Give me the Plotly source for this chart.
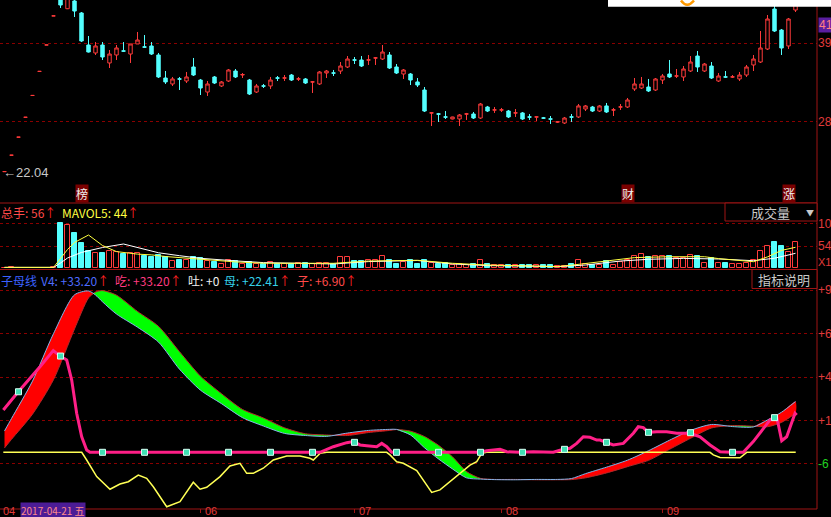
import plotly.graph_objects as go

W, H = 831, 517
PLOT_RIGHT = 817


def px(x):
    return x / W


def py(y):
    return 1 - y / H


# ---------------- data ----------------
days = list(range(-1, 113))

opens = [22.04, 24.24, 26.66, 29.33, 32.26, 35.49, 39.04, 42.94,
         47.2, 43.90, 44.94, 43.33, 39.03, 37.96, 39.03, 36.62, 37.69, 38.25,
         37.82, 39.17, 38.78, 38.90, 37.69, 34.60, 33.80, 34.49, 34.20, 36.08,
         34.33, 32.72, 34.74, 33.53, 34.20, 35.54, 35.00, 34.33, 32.72, 33.55,
         33.53, 34.62, 34.58, 35.00, 34.45, 34.47, 34.05, 33.80, 35.27, 35.29,
         35.54, 36.08, 37.04, 37.02, 37.00, 37.27, 37.15, 37.69, 36.08, 35.14,
         35.14, 34.07, 32.99, 29.89, 29.79, 29.39, 29.10, 29.10, 29.75, 29.77,
         29.23, 30.71, 30.29, 30.29, 30.17, 29.89, 29.91, 29.39, 29.35, 29.25,
         29.12, 28.68, 28.56, 29.39, 29.37, 30.44, 30.71, 30.17, 30.85, 30.29,
         30.69, 30.71, 33.13, 33.26, 33.39, 32.99, 34.33, 35.14, 34.85, 34.74,
         35.54, 37.55, 35.54, 36.21, 34.20, 34.76, 34.72, 34.47, 35.00, 36.35,
         36.75, 38.49, 43.86, 41.04, 38.90, 43.73]
highs = [22.04, 24.24, 26.66, 29.33, 32.26, 35.49, 39.04, 42.94,
         47.2, 46.0, 45.3, 43.46, 40.24, 39.43, 39.43, 38.36, 39.03, 39.43,
         39.17, 40.78, 40.37, 39.43, 37.96, 35.54, 34.74, 34.74, 35.41, 37.29,
         34.47, 34.20, 34.87, 34.20, 35.81, 35.81, 35.27, 34.47, 33.80, 33.80,
         34.74, 34.87, 35.00, 35.14, 34.74, 34.60, 34.20, 35.54, 35.68, 35.68,
         36.75, 37.55, 37.42, 37.55, 37.69, 37.42, 39.03, 38.09, 36.48, 35.81,
         35.27, 34.60, 33.39, 30.04, 29.91, 30.17, 29.40, 29.77, 29.91, 30.04,
         31.25, 30.85, 30.71, 30.58, 30.31, 30.44, 30.04, 29.77, 29.50, 29.37,
         29.50, 28.83, 29.37, 29.77, 31.11, 30.98, 30.85, 30.98, 31.25, 30.58,
         31.11, 31.92, 34.60, 34.74, 34.47, 34.60, 35.14, 37.02, 35.81, 36.21,
         37.55, 38.23, 36.62, 36.75, 35.27, 35.54, 35.00, 35.41, 36.35, 37.69,
         40.91, 43.06, 44.40, 41.18, 42.66, 46.00]
lows = [22.04, 24.24, 26.66, 29.33, 32.26, 35.49, 39.04, 42.94,
        44.00, 43.85, 42.79, 39.43, 38.02, 37.69, 37.02, 35.94, 37.02, 38.09,
        36.62, 39.17, 38.70, 37.69, 34.60, 33.80, 33.53, 32.99, 33.93, 34.87,
        32.32, 32.19, 33.80, 33.39, 34.07, 34.60, 34.60, 32.32, 32.59, 33.26,
        33.13, 34.20, 34.20, 34.20, 34.20, 33.80, 32.59, 33.66, 34.60, 34.87,
        35.14, 35.94, 36.48, 36.08, 36.35, 36.35, 37.02, 35.81, 35.14, 34.47,
        33.66, 33.39, 30.04, 28.16, 28.70, 29.10, 29.05, 28.16, 28.97, 29.10,
        29.10, 30.04, 29.91, 30.04, 29.23, 29.37, 28.97, 28.97, 28.83, 29.10,
        28.43, 28.56, 28.43, 28.70, 29.23, 30.17, 30.04, 30.04, 29.91, 29.50,
        30.31, 30.58, 32.86, 33.13, 32.72, 32.86, 33.80, 34.60, 34.60, 34.20,
        35.41, 35.41, 35.41, 34.47, 34.07, 34.60, 34.60, 34.20, 34.74, 35.54,
        36.62, 38.36, 40.78, 37.69, 38.49, 43.46]
closes = [22.04, 24.24, 26.66, 29.33, 32.26, 35.49, 39.04, 42.94,
          44.40, 45.6, 43.59, 39.57, 38.09, 38.90, 37.42, 37.82, 38.63, 38.20,
          39.17, 39.70, 38.74, 37.82, 34.74, 34.07, 34.47, 34.45, 34.74, 35.00,
          33.26, 33.80, 33.93, 34.07, 35.68, 34.74, 35.07, 32.45, 33.53, 33.51,
          34.33, 34.58, 34.62, 34.33, 34.49, 33.93, 34.09, 35.41, 35.54, 35.25,
          36.21, 37.15, 37.00, 36.21, 37.04, 37.31, 38.09, 35.94, 35.27, 35.68,
          34.33, 33.66, 30.17, 29.93, 29.75, 29.35, 29.37, 29.64, 29.79, 29.23,
          31.11, 30.17, 30.33, 30.33, 29.37, 29.93, 29.10, 29.35, 29.39, 29.21,
          29.08, 28.72, 29.23, 29.35, 30.85, 30.85, 30.17, 30.85, 30.04, 30.33,
          30.73, 31.65, 33.80, 33.80, 32.86, 34.47, 34.87, 34.74, 34.89, 35.81,
          36.75, 36.08, 36.48, 34.60, 34.87, 34.72, 34.76, 35.00, 36.08, 37.15,
          38.63, 42.52, 40.91, 38.63, 42.52, 45.30]

volumes = [1.0, 1.5, 1.0, 0.8, 0.8, 0.8, 1.0, 1.5,
           110, 107, 86, 62, 41, 37, 38, 41, 39.5, 35.5,
           38, 38, 30, 27, 31, 27, 16.5, 20.5, 20.5, 26.5,
           25, 16.5, 15, 11, 20.5, 16.5, 11, 15, 11, 9,
           15, 11, 9, 11, 12, 12, 11, 12, 12, 9,
           28, 28, 17, 17, 20.5, 19, 30.5, 20.5, 9, 15,
           19, 9, 19, 12, 9, 13, 8, 11, 8, 11,
           19, 11, 6.5, 6.5, 8, 6.5, 8, 6.5, 6.5, 6.5,
           6.5, 4, 4, 11, 19, 11, 8, 8, 18, 8,
           15, 19, 28.5, 34.5, 26, 30, 28.5, 28.5, 24.5, 24.5,
           31, 28.5, 12, 24.5, 12, 12, 11, 11, 12, 19,
           42.5, 53, 63, 53, 40, 63]

ma5_x = [-1, 6, 7, 8, 9, 11, 13, 15, 18, 20, 22, 25, 28, 32, 36, 41, 46, 51, 56,
         58, 63, 68, 73, 78, 80, 82, 86, 89, 94, 99, 101, 104, 106, 108, 110, 112]
ma5_v = [1.5, 1.5, 23.4, 45.6, 62.8, 81.3, 55.4, 40.4, 34.2, 32.3, 28.3, 23.9, 19.5,
         15.0, 11.8, 11.6, 11.6, 17.2, 19.7, 19.0, 11.6, 7.4, 5.4, 3.7, 6.9, 10.8,
         18.5, 25.6, 27.8, 27.8, 23.2, 18.2, 15.5, 27.4, 43.4, 51.0]
ma10_x = [-1, 6, 7, 8, 10, 13, 16, 18, 21, 24, 27, 32, 36, 41, 46, 51, 56, 58, 63,
          68, 73, 78, 82, 87, 91, 96, 101, 106, 109, 111, 112]
ma10_v = [1.5, 1.5, 12.3, 24.6, 38.4, 50.5, 59.1, 50.5, 37.5, 30.3, 23.9, 17.5,
          13.3, 11.6, 9.9, 15.8, 18.0, 18.5, 9.9, 5.9, 4.9, 3.2, 7.4, 17.2, 21.4,
          23.7, 22.2, 18.0, 24.1, 32.0, 36.2]

band_x = [-1, 0, 3, 6, 9, 11, 12, 13, 15, 18, 21, 24, 27, 30, 33, 36, 39, 42, 45, 48,
          51, 54, 55, 57, 59, 61, 63, 65, 67, 69, 72, 75, 78, 80, 82, 85, 88, 91, 94,
          97, 100, 103, 106, 108, 110, 112]
band_fast = [12.2, 19.3, 40.7, 67.8, 90.0, 92.2, 89.9, 86.0, 79.0, 71.5,
             63.0, 47.5, 35.5, 27.8, 19.8, 15.0, 10.8, 9.6, 9.1, 11.0,
             12.5, 13.1, 13.1, 9.9, 2.6, -3.8, -9.5, -14.6, -15.3, -15.6,
             -15.7, -15.5, -15.5, -15.0, -12.2, -8.5, -4.5, 0.9, 6.9, 12.5,
             15.9, 14.7, 14.5, 18.5, 22.9, 29.0]
band_slow = [2.5, 7.4, 21.8, 41.5, 70.5, 88.2, 91.6, 92.4, 89.8, 80.5,
             72.0, 57.5, 43.5, 33.5, 24.5, 19.6, 14.0, 10.6, 9.9, 9.6,
             11.3, 12.5, 13.0, 12.1, 9.0, 4.0, -2.6, -11.0, -14.9, -15.5,
             -15.5, -15.7, -15.7, -15.6, -14.6, -11.8, -8.2, -4.6, 1.7, 8.0,
             13.9, 15.3, 14.9, 14.6, 17.1, 22.5]

zi_x = [-1.17, 0.97, 4.07, 5.97, 6.93, 7.89, 8.6, 9.31, 10.03, 10.74, 11.21,
        44.07, 45.97, 47.89, 48.83, 49.79, 50.74, 52.17, 52.89, 53.6, 54.31,
        66.93, 67.89, 69.79, 70.74, 72.64, 74.54, 77.4, 78.83, 79.79, 80.74,
        81.69, 82.64, 83.6, 84.07, 85.03, 85.97, 87.4, 88.83, 89.54, 90.26,
        90.97, 92.17, 93.6, 95.03, 96.93, 98.36, 99.79, 101.21, 102.89, 104.54,
        105.97, 107.4, 108.36, 109.31, 110.03, 110.74, 111.46, 111.93, 112.17]
zi_v = [24.2, 34.6, 48.9, 58.1, 55.0, 52.7, 41.3, 22.3, 8.9, 1.3, 0,
        0, 3.2, 5.5, 6.1, 4.2, 3.8, 3.2, 5.1, 3.2, 0,
        0, 0.9, 1.7, 0.3, 0, 0.3, 0, 1.7, 2.3, 5.1,
        8.9, 8.6, 7.0, 7.0, 5.7, 4.2, 5.1, 10.9, 14.6, 14.1,
        11.4, 11.8, 11.8, 10.9, 10.9, 8.9, 4.2, 0.3, 0, 0,
        6.1, 13.7, 18.5, 20.3, 6.6, 8.9, 16.6, 22.3, 21.3]

tu_x = [-1.17, 10.03, 10.74, 12.17, 14.07, 15.5, 16.69, 18.11, 19.31, 20.26, 22.17,
        24.07, 25.97, 26.93, 27.89, 29.79, 31.21, 32.64, 33.6, 34.54, 35.97, 37.4,
        39.31, 41.21, 42.64, 43.11, 44.07, 45.03, 53.6, 54.07, 55.03, 55.97, 57.89,
        58.83, 60.03, 61.21, 62.64, 64.07, 65.5, 66.46, 67.17, 67.89, 99.79, 100.26,
        101.21, 104.07, 105.03, 112.03]
tu_v = [0, 0, -4.4, -13.9, -21.1, -18.1, -16.8, -13.0, -14.9, -19.7, -31.1,
        -28.2, -17.1, -21.1, -20.0, -13.9, -7.8, -6.3, -12.0, -12.0, -9.1, -4.4,
        -2.1, -2.1, -3.4, -4.4, -0.6, 0, 0, -1.5, -5.4, -6.3, -10.5,
        -15.8, -22.9, -21.5, -16.8, -11.7, -7.3, -5.4, -0.6, 0, 0, -1.5,
        -2.9, -3.1, 0, 0]

mark_x = [1, 7, 13, 19, 25, 31, 37, 43, 49, 55, 61, 67, 73, 79, 85, 91, 97, 103, 109]
mark_v = [34.6, 55.0, 0, 0, 0, 0, 0, 0, 5.7, 0, 0, 0, 0, 1.7, 5.7, 11.4, 11.2, 0, 19.8]

price_ticks = [28.70, 39.30]
price_labels = ["28", "39"]
vol_ticks = [54.2, 108.5]
vol_labels = ["54", "10"]
ind_ticks = [-6.60, 18.20, 43.00, 67.80, 92.60]
ind_labels = ["-6", "+1", "+4", "+6", "+9"]
month_pos = [27, 49, 70, 93]
month_labels = ["06", "07", "08", "09"]

# ---------------- style ----------------
RED = "#ff3b3b"
CYAN = "#54ffff"
GRID = "#8a0000"
SEP = "#a01414"
AXT = "#e03a3a"
FONT = "Liberation Sans, Arial, Noto Sans CJK SC"
CJK = "Noto Sans CJK SC, Liberation Sans"

fig = go.Figure()

# ---- price panel ----
fig.add_trace(go.Candlestick(
    x=days, open=opens, high=highs, low=lows, close=closes,
    increasing=dict(line=dict(color=RED, width=1), fillcolor="#000000"),
    decreasing=dict(line=dict(color=CYAN, width=1), fillcolor=CYAN),
    whiskerwidth=0, xaxis="x", yaxis="y", hoverinfo="skip", showlegend=False))

# ---- volume panel ----
up = []
prev_c = None
for o, c in zip(opens, closes):
    if c > o:
        u = True
    elif c < o:
        u = False
    else:
        u = True if prev_c is None else c >= prev_c
    up.append(u)
    prev_c = c
fig.add_trace(go.Bar(
    x=days, y=volumes, width=0.68,
    marker=dict(color=["#000000" if u else CYAN for u in up],
                line=dict(color=[RED if u else CYAN for u in up], width=1)),
    xaxis="x", yaxis="y2", hoverinfo="skip", showlegend=False))
fig.add_trace(go.Scatter(x=ma10_x, y=ma10_v, mode="lines",
                         line=dict(color="#ffffff", width=1),
                         xaxis="x", yaxis="y2", hoverinfo="skip", showlegend=False))
fig.add_trace(go.Scatter(x=ma5_x, y=ma5_v, mode="lines",
                         line=dict(color="#ffff40", width=1),
                         xaxis="x", yaxis="y2", hoverinfo="skip", showlegend=False))

# ---- indicator panel: ribbon between fast and slow lines ----
segs = []
cx, ca, cb = [band_x[0]], [band_fast[0]], [band_slow[0]]
sign = band_fast[0] >= band_slow[0]
for k in range(1, len(band_x)):
    s = band_fast[k] >= band_slow[k]
    if s != sign:
        d0 = band_fast[k - 1] - band_slow[k - 1]
        d1 = band_fast[k] - band_slow[k]
        t = d0 / (d0 - d1)
        xc = band_x[k - 1] + t * (band_x[k] - band_x[k - 1])
        yc = band_fast[k - 1] + t * (band_fast[k] - band_fast[k - 1])
        cx.append(xc); ca.append(yc); cb.append(yc)
        segs.append((sign, cx, ca, cb))
        cx, ca, cb = [xc], [yc], [yc]
        sign = s
    cx.append(band_x[k]); ca.append(band_fast[k]); cb.append(band_slow[k])
segs.append((sign, cx, ca, cb))

for sgn, sx, sa, sb in segs:
    fig.add_trace(go.Scatter(
        x=sx + sx[::-1], y=sa + sb[::-1], mode="lines", fill="toself",
        fillcolor="#ff0000" if sgn else "#00ff00",
        line=dict(width=0, shape="spline", smoothing=0.7),
        xaxis="x", yaxis="y3", hoverinfo="skip", showlegend=False))

fig.add_trace(go.Scatter(x=band_x, y=band_slow, mode="lines",
                         line=dict(color="#b02a2a", width=1, shape="spline", smoothing=0.7),
                         xaxis="x", yaxis="y3", hoverinfo="skip", showlegend=False))
fig.add_trace(go.Scatter(x=band_x, y=band_fast, mode="lines",
                         line=dict(color="#80b4e8", width=1, shape="spline", smoothing=0.7),
                         xaxis="x", yaxis="y3", hoverinfo="skip", showlegend=False))

fig.add_trace(go.Scatter(x=tu_x, y=tu_v, mode="lines",
                         line=dict(color="#ffff55", width=1.5),
                         xaxis="x", yaxis="y3", hoverinfo="skip", showlegend=False))
fig.add_trace(go.Scatter(x=zi_x, y=zi_v, mode="lines",
                         line=dict(color="#ff1f87", width=3),
                         xaxis="x", yaxis="y3", hoverinfo="skip", showlegend=False))
fig.add_trace(go.Scatter(x=mark_x, y=mark_v, mode="markers",
                         marker=dict(symbol="square", size=6, color="#3fe0b4",
                                     line=dict(color="#d8fff4", width=1)),
                         xaxis="x", yaxis="y3", hoverinfo="skip", showlegend=False))

# ---------------- layout ----------------
axis_common = dict(anchor="x", side="right", showline=False, zeroline=False,
                   ticks="", showgrid=True, gridcolor=GRID, griddash="dot", gridwidth=1,
                   tickfont=dict(color=AXT, size=12, family=FONT), fixedrange=True)

fig.update_layout(
    width=W, height=H, autosize=False, margin=dict(l=0, r=0, t=0, b=0, pad=0),
    paper_bgcolor="#000000", plot_bgcolor="#000000", showlegend=False,
    bargap=0,
    xaxis=dict(domain=[0, px(PLOT_RIGHT)], range=[-1.643, 115.07], visible=False,
               anchor="y3", rangeslider=dict(visible=False), fixedrange=True),
    yaxis=dict(domain=[py(203), 1], range=[17.823, 45.072],
               tickvals=price_ticks, ticktext=price_labels, **axis_common),
    yaxis2=dict(domain=[py(269.5), py(203)], range=[-3.70, 160.16],
                tickvals=vol_ticks, ticktext=vol_labels, **axis_common),
    yaxis3=dict(domain=[py(509), py(269.5)], range=[-32.4, 104.46],
                tickvals=ind_ticks,
                ticktext=['<span style="color:#20d020">%s</span>' % t if v < 0 else t
                          for v, t in zip(ind_ticks, ind_labels)],
                **axis_common),
)

shapes = []
# panel separators
for yy in (203, 269.5, 509):
    shapes.append(dict(type="line", xref="paper", yref="paper", x0=0, x1=px(PLOT_RIGHT),
                       y0=py(yy), y1=py(yy), line=dict(color=SEP, width=1)))
shapes.append(dict(type="line", xref="paper", yref="paper", x0=px(PLOT_RIGHT), x1=px(PLOT_RIGHT),
                   y0=py(0), y1=py(509), line=dict(color=SEP, width=1)))
# month ticks
for m in month_pos:
    shapes.append(dict(type="line", xref="x", yref="paper", x0=m, x1=m,
                       y0=py(509), y1=py(513), line=dict(color=SEP, width=1)))
# boxes
shapes.append(dict(type="rect", xref="paper", yref="paper", x0=px(725), x1=px(PLOT_RIGHT),
                   y0=py(221), y1=py(203), line=dict(color=SEP, width=1), fillcolor="#000000"))
shapes.append(dict(type="rect", xref="paper", yref="paper", x0=px(752), x1=px(PLOT_RIGHT),
                   y0=py(288.5), y1=py(269.5), line=dict(color=SEP, width=1), fillcolor="#000000"))
shapes.append(dict(type="rect", xref="paper", yref="paper", x0=px(608), x1=1.0,
                   y0=py(6.7), y1=1.0, line=dict(width=0), fillcolor="#ffffff"))
# orange glyph fragment peeking below the top-right white box
shapes.append(dict(type="path", xref="paper", yref="paper",
                   path="M %f,%f Q %f,%f %f,%f" % (px(681), py(0.5), px(687), py(9), px(694), py(0.5)),
                   line=dict(color="#ff9a00", width=2.5)))
fig.update_layout(shapes=shapes)

ann = []


def text(x, y, s, color, size=12, xanchor="left", yanchor="middle", family=FONT, bg=None,
         xref="paper", yref="paper", xshift=0, yshift=0):
    d = dict(x=x, y=y, xref=xref, yref=yref, text=s, showarrow=False,
             xanchor=xanchor, yanchor=yanchor, xshift=xshift, yshift=yshift,
             font=dict(color=color, size=size, family=family), borderpad=0)
    if bg:
        d["bgcolor"] = bg
    ann.append(d)


UP = '<span style="color:#ff2020">↑</span>'
# volume title
text(px(0), py(212.5), "总手: 56" + UP, "#ff4a4a", family=CJK)
text(px(61), py(212.5), "MAVOL5: 44" + UP, "#ffff40", family=CJK)
# indicator title
text(px(0), py(280), "子母线", "#3b62ff", family=CJK)
text(px(40), py(280), "V4: +33.20" + UP, "#4e6cff", family=CJK)
text(px(114), py(280), "吃: +33.20" + UP, "#ff3a80", family=CJK)
text(px(187), py(280), "吐: +0", "#f0f0f0", family=CJK)
text(px(223), py(280), "母: +22.41" + UP, "#35d0e8", family=CJK)
text(px(296), py(280), "子: +6.90" + UP, "#ff4a4a", family=CJK)
# boxes text
text(px(770), py(212.5), "成交量", "#c8c8c8", size=13, xanchor="center", family=CJK)
text(px(810), py(212), "▼", "#c8c8c8", size=8, xanchor="center", family=CJK)
text(px(784), py(279.5), "指标说明", "#c8c8c8", size=13, xanchor="center", family=CJK)
# price markers
text(days[0], 22.04, "←22.04", "#c8c8c8", size=13, xref="x", yref="y", family=FONT,
     xshift=-3, yshift=-1)
text(10, py(193.5), "榜", "#f0f0f0", size=12, xanchor="center", family=CJK, bg="#7a0000", xref="x")
text(88, py(193.5), "财", "#f0f0f0", size=12, xanchor="center", family=CJK, bg="#7a0000", xref="x")
text(111, py(193.5), "涨", "#f0f0f0", size=12, xanchor="center", family=CJK, bg="#7a0000", xref="x")
text(px(818), py(24.5), "41", "#ff8080", size=12, family=FONT, bg="#5a1ea0")
text(px(817), py(262), "X1", AXT, size=11, family=FONT)
# x labels
text(px(2), py(510.5), "04", AXT, size=11, family=FONT)
text(px(20), py(510.5), "2017-04-21 五", "#ff8a8a", size=10, family=CJK, bg="#4c1c96")
for m, lab in zip(month_pos, month_labels):
    d = dict(x=m, y=py(510.5), xref="x", yref="paper", text=lab, showarrow=False,
             xanchor="left", yanchor="middle", xshift=2,
             font=dict(color=AXT, size=11, family=FONT))
    ann.append(d)
fig.update_layout(annotations=ann)

fig.write_html(
    "out.html",
    config={"responsive": False, "displayModeBar": False},
    default_width="831px", default_height="517px",
    post_script="document.documentElement.style.margin='0';document.body.style.margin='0';"
                "document.documentElement.style.overflow='hidden';document.body.style.overflow='hidden';",
)
